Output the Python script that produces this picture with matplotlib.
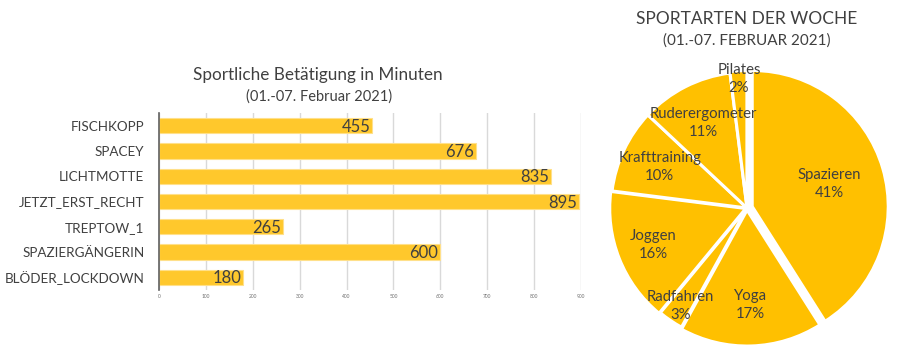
import matplotlib.pyplot as plt
import numpy as np

# Balkendiagramm: Minuten pro Person
namen = ["FISCHKOPP", "SPACEY", "LICHTMOTTE", "JETZT_ERST_RECHT",
         "TREPTOW_1", "SPAZIERGÄNGERIN", "BLÖDER_LOCKDOWN"]
minuten = [455, 676, 835, 895, 265, 600, 180]
x_ticks = [0, 100, 200, 300, 400, 500, 600, 700, 800, 900]

# Kreisdiagramm: Sportarten
sportarten = ["Spazieren", "Yoga", "Radfahren", "Joggen",
              "Krafttraining", "Ruderergometer", "Pilates"]
anteile = [41, 17, 3, 16, 10, 11, 2]

GRAU = "#404040"
GELB_BAR = "#FFC82C"
GELB_PIE = "#FFC000"

plt.rcParams["font.family"] = ["Lato", "DejaVu Sans"]

W, H = 899, 350
fig = plt.figure(figsize=(W / 100, H / 100), dpi=100)


def px_axes(left, top, right, bottom):
    return fig.add_axes([left / W, 1 - bottom / H, (right - left) / W, (bottom - top) / H])


# --- Balken ---
ax = px_axes(159, 113, 581, 290)
y = np.arange(len(namen))
ax.barh(y, minuten, height=0.6, color=GELB_BAR, edgecolor="#FFE08A", linewidth=0.8, zorder=3)
ax.set_ylim(len(namen) - 0.5, -0.5)
ax.set_xlim(0, 900)
ax.set_yticks(y)
ax.set_yticklabels(namen, fontsize=9.7, color=GRAU)
ax.set_xticks(x_ticks)
ax.set_xticklabels([str(t) for t in x_ticks], fontsize=3.5, color="#707070")
ax.tick_params(axis="y", length=0, pad=10.5)
ax.tick_params(axis="x", length=0, pad=3)
ax.grid(axis="x", color="#D9D9D9", linewidth=1, zorder=0)
for s in ["top", "right", "bottom"]:
    ax.spines[s].set_visible(False)
ax.spines["left"].set_color("#606060")
ax.spines["left"].set_linewidth(1.2)
ax.spines["left"].set_zorder(4)
for yi, v in zip(y, minuten):
    ax.text(v - 4, yi + 0.04, str(v), ha="right", va="center", fontsize=12, color=GRAU, zorder=5)

fig.text(318 / W, 1 - 75 / H, "Sportliche Betätigung in Minuten", ha="center", va="center",
         fontsize=12.3, color=GRAU)
fig.text(319 / W, 1 - 97 / H, "(01.-07. Februar 2021)", ha="center", va="center",
         fontsize=10.5, color=GRAU)

# --- Kreis ---
cx, cy, r = 747, 208, 136
lim = 1.1
pax = px_axes(cx - r * lim, cy - r * lim, cx + r * lim, cy + r * lim)
explode = [0.04, 0.015, 0.0, 0.01, 0.0, 0.0, 0.01]
wedges, _ = pax.pie(anteile, startangle=90, counterclock=False, colors=[GELB_PIE] * len(anteile),
                    explode=explode, wedgeprops=dict(edgecolor="white", linewidth=2.2))
pax.set_xlim(-lim, lim)
pax.set_ylim(-lim, lim)
pax.set_aspect("equal")
pax.axis("off")

label_dist = [0.59, 0.70, 0.87, 0.73, 0.71, 0.70, 0.94]
for w, name, p, d in zip(wedges, sportarten, anteile, label_dist):
    ang = np.deg2rad((w.theta1 + w.theta2) / 2)
    ox, oy = w.center
    pax.text(ox + d * np.cos(ang), oy + d * np.sin(ang), f"{name}\n{p}%", ha="center", va="center",
             fontsize=10.7, color=GRAU, linespacing=1.35)

fig.text(747 / W, 1 - 19 / H, "SPORTARTEN DER WOCHE", ha="center", va="center",
         fontsize=12.5, color=GRAU)
fig.text(747 / W, 1 - 41 / H, "(01.-07. FEBRUAR 2021)", ha="center", va="center",
         fontsize=11, color=GRAU)

fig.savefig("out.png", dpi=100)
